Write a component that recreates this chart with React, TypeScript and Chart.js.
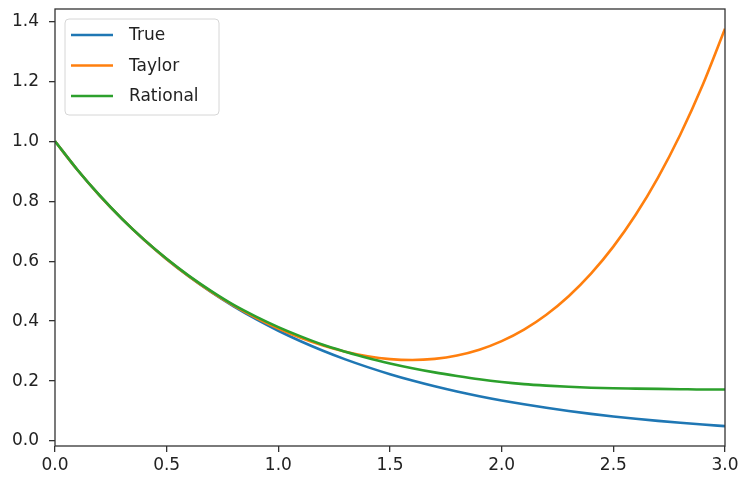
import React, { useEffect, useRef } from "react";
import { Chart, registerables } from "chart.js";

Chart.register(...registerables);

const xValues = [0.0, 0.1, 0.2, 0.3, 0.4, 0.5, 0.6, 0.7, 0.8, 0.9, 1.0, 1.1, 1.2, 1.3, 1.4, 1.5, 1.6, 1.7, 1.8, 1.9, 2.0, 2.1, 2.2, 2.3, 2.4, 2.5, 2.6, 2.7, 2.8, 2.9, 3.0];
const trueValues = [1.0, 0.9048, 0.8187, 0.7408, 0.6703, 0.6065, 0.5488, 0.4966, 0.4493, 0.4066, 0.3679, 0.3329, 0.3012, 0.2725, 0.2466, 0.2231, 0.2019, 0.1827, 0.1653, 0.1496, 0.1353, 0.1225, 0.1108, 0.1003, 0.0907, 0.0821, 0.0743, 0.0672, 0.0608, 0.055, 0.0498];
const taylorValues = [1.0, 0.9048, 0.8187, 0.7408, 0.6704, 0.6068, 0.5494, 0.4978, 0.4517, 0.4108, 0.375, 0.3442, 0.3184, 0.2978, 0.2827, 0.2734, 0.2704, 0.2742, 0.2854, 0.3048, 0.3333, 0.3718, 0.4214, 0.4832, 0.5584, 0.6484, 0.7547, 0.8788, 1.0224, 1.1872, 1.375];
const rationalValues = [1.0, 0.905, 0.819, 0.741, 0.671, 0.608, 0.551, 0.5, 0.454, 0.415, 0.38, 0.349, 0.321, 0.298, 0.277, 0.259, 0.243, 0.229, 0.217, 0.206, 0.197, 0.19, 0.185, 0.181, 0.178, 0.176, 0.175, 0.174, 0.173, 0.172, 0.172];
const seriesLabels = ["True", "Taylor", "Rational"];
const seriesColors = ["#1f77b4", "#ff7f0e", "#2ca02c"];
const xTicks = [0.0, 0.5, 1.0, 1.5, 2.0, 2.5, 3.0];
const yTicks = [0.0, 0.2, 0.4, 0.6, 0.8, 1.0, 1.2, 1.4];

const FONT = "DejaVu Sans";

const framePlugin = {
  id: "frameAndLegend",
  afterDatasetsDraw(chart: any) {
    const { ctx, chartArea } = chart;
    ctx.save();
    ctx.strokeStyle = "#333333";
    ctx.lineWidth = 1.3;
    ctx.strokeRect(chartArea.left, chartArea.top, chartArea.right - chartArea.left, chartArea.bottom - chartArea.top);

    // legend
    const bx = chartArea.left + 10;
    const by = chartArea.top + 10;
    const bw = 154;
    const bh = 96;
    const r = 4;
    ctx.beginPath();
    ctx.moveTo(bx + r, by);
    ctx.lineTo(bx + bw - r, by);
    ctx.arcTo(bx + bw, by, bx + bw, by + r, r);
    ctx.lineTo(bx + bw, by + bh - r);
    ctx.arcTo(bx + bw, by + bh, bx + bw - r, by + bh, r);
    ctx.lineTo(bx + r, by + bh);
    ctx.arcTo(bx, by + bh, bx, by + bh - r, r);
    ctx.lineTo(bx, by + r);
    ctx.arcTo(bx, by, bx + r, by, r);
    ctx.closePath();
    ctx.fillStyle = "rgba(255,255,255,0.8)";
    ctx.fill();
    ctx.strokeStyle = "#d6d6d6";
    ctx.lineWidth = 1;
    ctx.stroke();

    chart.data.datasets.forEach((ds: any, i: number) => {
      const rowY = by + 16 + i * 30.5;
      ctx.strokeStyle = ds.borderColor;
      ctx.lineWidth = 2.6;
      ctx.beginPath();
      ctx.moveTo(bx + 6, rowY);
      ctx.lineTo(bx + 48, rowY);
      ctx.stroke();
      ctx.fillStyle = "#222222";
      ctx.font = `17px "${FONT}"`;
      ctx.textBaseline = "middle";
      ctx.textAlign = "left";
      ctx.fillText(ds.label, bx + 64, rowY + 1);
    });
    ctx.restore();
  },
};

export default function App() {
  const canvasRef = useRef<HTMLCanvasElement | null>(null);

  useEffect(() => {
    document.body.style.margin = "0";
    const canvas = canvasRef.current;
    if (!canvas) return;
    const seriesData = [trueValues, taylorValues, rationalValues];
    const chart = new Chart(canvas, {
      type: "line",
      data: {
        datasets: seriesData.map((vals, i) => ({
          label: seriesLabels[i],
          data: xValues.map((x, j) => ({ x, y: vals[j] })),
          borderColor: seriesColors[i],
          backgroundColor: seriesColors[i],
          borderWidth: 2.6,
          pointRadius: 0,
          fill: false,
          order: 2 - i,
          cubicInterpolationMode: "monotone" as const,
        })),
      },
      options: {
        animation: false,
        responsive: false,
        maintainAspectRatio: false,
        layout: { padding: { left: 0, top: 9, right: 19, bottom: 0 } },
        plugins: {
          legend: { display: false },
          tooltip: { enabled: false },
        },
        scales: {
          x: {
            type: "linear",
            min: 0,
            max: 3,
            afterFit: (scale: any) => {
              scale.height = 33;
              scale.paddingLeft = 0;
              scale.paddingRight = 0;
            },
            afterBuildTicks: (scale: any) => {
              scale.ticks = xTicks.map((v) => ({ value: v }));
            },
            border: { display: false },
            grid: {
              display: true,
              drawOnChartArea: false,
              drawTicks: true,
              tickLength: 6,
              color: "#333333",
              lineWidth: 1.3,
            },
            ticks: {
              padding: 3,
              color: "#222222",
              font: { family: FONT, size: 17 },
              maxRotation: 0,
              autoSkip: false,
              callback: (v: any) => Number(v).toFixed(1),
            },
          },
          y: {
            type: "linear",
            min: -0.0165,
            max: 1.441,
            afterFit: (scale: any) => {
              scale.width = 55;
              scale.paddingTop = 0;
              scale.paddingBottom = 0;
            },
            afterBuildTicks: (scale: any) => {
              scale.ticks = yTicks.map((v) => ({ value: v }));
            },
            border: { display: false },
            grid: {
              display: true,
              drawOnChartArea: false,
              drawTicks: true,
              tickLength: 6,
              color: "#333333",
              lineWidth: 1.3,
            },
            ticks: {
              padding: 10,
              color: "#222222",
              font: { family: FONT, size: 17 },
              autoSkip: false,
              callback: (v: any) => Number(v).toFixed(1),
            },
          },
        },
      },
      plugins: [framePlugin],
    });
    return () => chart.destroy();
  }, []);

  return (
    <div style={{ width: 744, height: 479 }}>
      <canvas ref={canvasRef} width={744} height={479} style={{ display: "block" }} />
    </div>
  );
}
